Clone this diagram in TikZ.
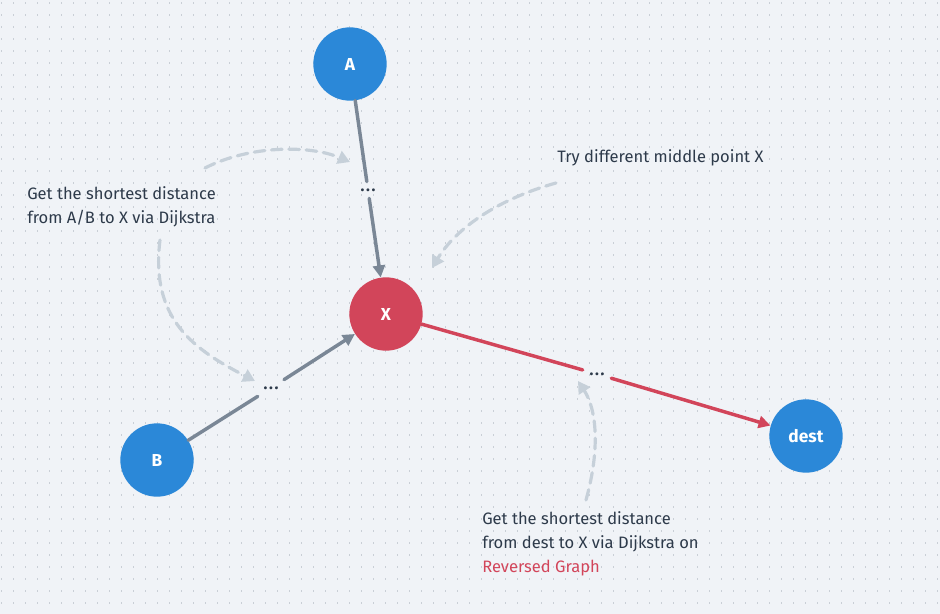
\documentclass[tikz,border=0pt]{standalone}
\usepackage{fontspec}
\setmainfont{Fira Sans}
\usetikzlibrary{arrows.meta}
\usetikzlibrary{positioning}

\definecolor{bgcol}{HTML}{F0F3F7}
\definecolor{gridcol}{HTML}{C9CFD6}
\definecolor{vtxblue}{HTML}{2B88D8}
\definecolor{vtxred}{HTML}{D2455A}
\definecolor{edgegray}{HTML}{7A8796}
\definecolor{hintcol}{HTML}{C6D0D9}
\definecolor{txtcol}{HTML}{2D3A4A}

\newcommand{\middots}{.\kern1.2pt.\kern1.2pt.}

\begin{document}
\begin{tikzpicture}[x=0.75pt,y=-0.75pt,
    vertex/.style={circle,minimum size=55pt,inner sep=0pt,text=white,font=\fontsize{13}{15}\selectfont\bfseries},
    mid/.style={inner sep=5pt,text=txtcol,font=\fontsize{12}{14}\selectfont\bfseries},
    edge/.style={line width=2.6pt,draw=edgegray,line cap=round},
    redge/.style={line width=2.6pt,draw=vtxred,line cap=round},
    hint/.style={line width=2.4pt,draw=hintcol,dash pattern=on 8pt off 5pt,line cap=round,
                 -{Triangle[length=9pt,width=10pt]}},
    note/.style={align=left,anchor=west,text=txtcol,font=\fontsize{12.4}{18}\selectfont,inner sep=0pt}]
  % background and dot grid
  \fill[bgcol] (0,0) rectangle (940,614);
  \useasboundingbox (0,0) rectangle (940,614);
  \foreach \i in {0,...,78}
    \foreach \j in {0,...,50}
      \fill[gridcol] (1+12*\i,2+12*\j) rectangle ++(1.2,2.2);

  % vertices
  \node[vertex,fill=vtxblue] (A) at (350,64) {A};
  \node[vertex,fill=vtxred] (X) at (386,314) {X};
  \node[vertex,fill=vtxblue] (B) at (157,460) {B};
  \node[vertex,fill=vtxblue] (dest) at (806,436) {dest};

  % path middles
  \node[mid] (ma) at (368,190) {\middots};
  \node[mid] (mb) at (271,388) {\middots};
  \node[mid] (md) at (597,374) {\middots};

  % paths
  \draw[edge] (A) -- (ma);
  \draw[edge,-{Triangle[length=9pt,width=9pt]}] (ma) -- (X);
  \draw[edge] (B) -- (mb);
  \draw[edge,-{Triangle[length=9pt,width=9pt]}] (mb) -- (X);
  \draw[redge] (X) -- (md);
  \draw[redge,-{Triangle[length=9pt,width=9pt]}] (md) -- (dest);

  % notes
  \node[note] (leftnote) at (27,207) {Get the shortest distance\\from A/B to X via Dijkstra};
  \node[note] (midnote) at (557,158) {Try different middle point X};
  \node[note] (destnote) at (482,544) {Get the shortest distance\\from dest to X via Dijkstra on\\\textcolor{vtxred}{Reversed Graph}};

  % hints
  \coordinate (ha) at (350,162);
  \coordinate (hb) at (255,381);
  \coordinate (hx) at (432,268);
  \coordinate (hd) at (578,381);
  \draw[hint] (205,168) .. controls (250,145) and (310,145) .. (ha);
  \draw[hint] (160,240) .. controls (150,320) and (195,350) .. (hb);
  \draw[hint] (556,183) .. controls (495,200) and (455,230) .. (hx);
  \draw[hint] (586,500) .. controls (600,450) and (597,410) .. (hd);
\end{tikzpicture}
\end{document}
